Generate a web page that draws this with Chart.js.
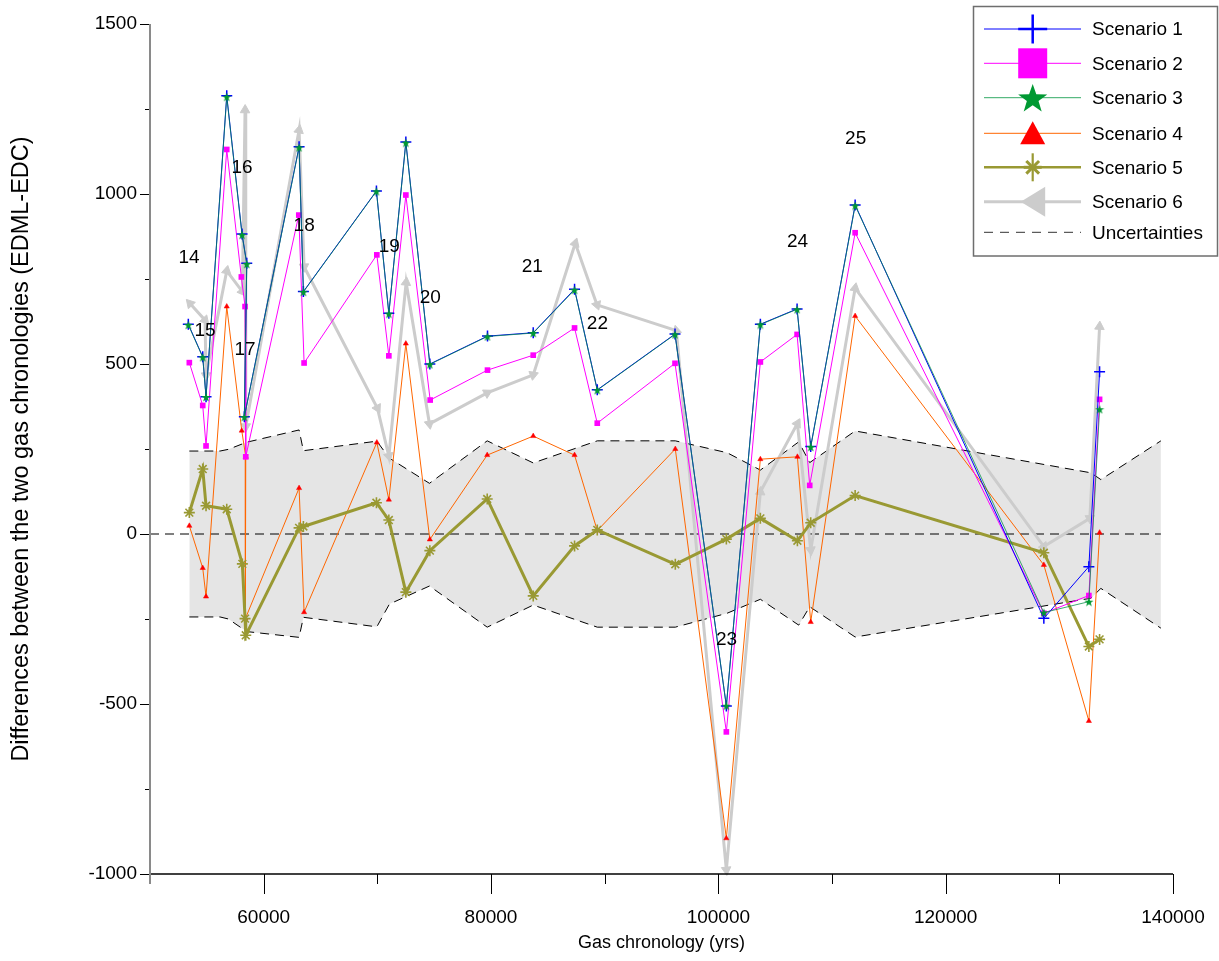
<!DOCTYPE html>
<html>
<head>
<meta charset="utf-8">
<script src="https://cdn.jsdelivr.net/npm/chart.js@4.4.1/dist/chart.umd.min.js"></script>
<style>
html,body{margin:0;padding:0;background:#ffffff;}
#wrap{position:relative;width:1219px;height:961px;}
</style>
</head>
<body>
<div id="wrap"><canvas id="c" width="1219" height="961"></canvas></div>
<script>
// ---------------- DATA ----------------
const seriesNames = ['Scenario 1','Scenario 2','Scenario 3','Scenario 4','Scenario 5','Scenario 6','Uncertainties'];

const xTickValues = [50000,60000,70000,80000,90000,100000,110000,120000,130000,140000];
const xTickLabels = ['','60000','','80000','','100000','','120000','','140000'];
const yTickValues = [-1000,-750,-500,-250,0,250,500,750,1000,1250,1500];
const yTickLabels = ['-1000','','-500','','0','','500','','1000','','1500'];

const s1X = [53371,54639,54930,56752,58099,58512,58301,63116,63495,69921,71013,72509,74621,79692,83715,87351,89349,96189,100705,103698,106929,108127,112036,128637,132599,133541];
const s1Y = [617,521,404,1289,882,796,345,1139,713,1009,649,1153,500,582,592,720,424,588,-506,617,662,257,968,-248,-96,477];

const s2X = [53460,54639,54930,56752,58037,58363,58424,63090,63557,69956,71013,72509,74648,79692,83715,87351,89349,96189,100705,103698,106929,108039,112036,128637,132599,133541];
const s2Y = [504,378,259,1131,756,669,227,938,503,821,524,997,394,482,526,606,326,502,-582,506,587,143,886,-233,-181,396];

const s3X = [53371,54639,54930,56752,58099,58512,58301,63116,63495,69921,71013,72509,74621,79692,83715,87351,89349,96189,100705,103698,106929,108127,112036,128637,132599,133541];
const s3Y = [615,520,403,1286,880,794,344,1137,712,1008,648,1151,499,581,591,718,423,587,-505,616,661,256,966,-231,-199,367];

const s4X = [53460,54639,54930,56752,58072,58424,58389,63116,63557,69956,71013,72509,74621,79666,83715,87351,89349,96215,100705,103698,106956,108127,112036,128637,132599,133541];
const s4Y = [24,-100,-184,669,304,227,-249,135,-230,269,101,560,-16,232,288,232,10,250,-895,220,227,-259,641,-91,-550,4];

const s5X = [53460,54639,54930,56752,58125,58363,58424,63116,63495,69921,71013,72509,74621,79666,83715,87351,89349,96215,100705,103698,106956,108127,112036,128637,132599,133541];
const s5Y = [63,191,83,73,-88,-249,-298,18,22,92,41,-171,-49,103,-182,-35,12,-89,-15,46,-20,33,113,-55,-331,-310];

const s6X = [53521,54842,54930,56752,58125,58363,58424,63116,63557,70009,71013,72535,74586,79666,83715,87413,89323,96303,100705,103698,106956,108127,112036,128637,132687,133541];
const s6Y = [678,629,466,774,713,1247,316,1188,786,370,229,740,324,415,468,855,674,598,-988,124,325,-47,723,-37,46,610];

const bandX     = [53460,56162,56893,58512,63116,63495,69956,71065,74586,79666,83715,89349,96215,100776,103698,107071,108039,112036,132775,133655,138935];
const bandUpper = [244,244,249,270,306,245,273,223,149,274,209,274,274,239,188,271,210,303,180,160,274];
const bandLower = [-244,-244,-250,-287,-304,-245,-273,-206,-153,-274,-209,-274,-274,-233,-192,-268,-214,-303,-189,-160,-277];

const zeroX = [50000,138935];
const zeroY = [0,0];

const eventNames = ['14','15','16','17','18','19','20','21','22','23','24','25'];
const eventX = [53434,54843,58101,58366,63561,71046,74657,83639,89363,100723,106975,112083];
const eventY = [812,597,1076,541,906,844,694,785,618,-312,859,1162];

// ---------------- HELPERS ----------------
const FONT = '"Liberation Sans", Arial, Helvetica, sans-serif';
Chart.defaults.font.family = FONT;
Chart.defaults.color = '#000000';

function pts(xs, ys){ return xs.map((x,i)=>({x:x, y:ys[i]})); }

function drawStar5(g, cx, cy, R, color){
  g.beginPath();
  for(let k=0;k<10;k++){
    const r = (k%2) ? R*0.40 : R;
    const a = -Math.PI/2 + k*Math.PI/5;
    const px = cx + r*Math.cos(a), py = cy + r*Math.sin(a);
    if(k===0) g.moveTo(px,py); else g.lineTo(px,py);
  }
  g.closePath(); g.fillStyle = color; g.fill();
}
const starImg = (function(){
  const c = document.createElement('canvas'); c.width = 10; c.height = 10;
  drawStar5(c.getContext('2d'), 5, 5.5, 4.8, '#009933');
  return c;
})();

function arrowRotation(xs, ys){
  return function(ctx){
    const ch = ctx.chart, i = ctx.dataIndex;
    if (i === undefined || !ch.scales || !ch.scales.x) return 0;
    const sx = ch.scales.x, sy = ch.scales.y;
    const j = (i === 0) ? 1 : i - 1;
    const x0 = sx.getPixelForValue(xs[i]), y0 = sy.getPixelForValue(ys[i]);
    const x1 = sx.getPixelForValue(xs[j]), y1 = sy.getPixelForValue(ys[j]);
    return Math.atan2(x0 - x1, -(y0 - y1)) * 180 / Math.PI;
  };
}

// ---------------- PLUGINS ----------------
const axesPlugin = {
  id: 'axesPlugin',
  afterDraw(chart){
    const g = chart.ctx, a = chart.chartArea, sx = chart.scales.x, sy = chart.scales.y;
    g.save();
    g.strokeStyle = '#000'; g.lineWidth = 1;
    xTickValues.forEach(v=>{
      const px = Math.round(sx.getPixelForValue(v)) + 0.5;
      const len = (v % 20000 === 0) ? 20 : 10;
      g.beginPath(); g.moveTo(px, a.bottom); g.lineTo(px, a.bottom + len); g.stroke();
    });
    yTickValues.forEach(v=>{
      const py = Math.round(sy.getPixelForValue(v)) + 0.5;
      const len = (v % 500 === 0) ? 10 : 5;
      g.beginPath(); g.moveTo(a.left - len, py); g.lineTo(a.left, py); g.stroke();
    });
    g.strokeStyle = '#000'; g.lineWidth = 1.5;
    g.beginPath(); g.moveTo(a.left, a.bottom); g.lineTo(a.right, a.bottom); g.stroke();
    g.strokeStyle = '#8a8a8a'; g.lineWidth = 2;
    g.beginPath(); g.moveTo(a.left, a.top); g.lineTo(a.left, a.bottom + 10); g.stroke();
    g.restore();
  }
};

const eventPlugin = {
  id: 'eventPlugin',
  afterDatasetsDraw(chart){
    const g = chart.ctx, sx = chart.scales.x, sy = chart.scales.y;
    g.save();
    g.font = '19px ' + FONT; g.fillStyle = '#000';
    g.textAlign = 'center'; g.textBaseline = 'middle';
    eventNames.forEach((t,i)=>{
      g.fillText(t, sx.getPixelForValue(eventX[i]), sy.getPixelForValue(eventY[i]));
    });
    g.restore();
  }
};

const legendPlugin = {
  id: 'boxLegend',
  afterDraw(chart){
    const g = chart.ctx;
    g.save();
    g.fillStyle = '#fff';
    g.fillRect(973.5, 6.5, 244, 249.5);
    g.strokeStyle = '#6e6e6e'; g.lineWidth = 1.5;
    g.strokeRect(973.5, 6.5, 244, 249.5);
    const rows = [29, 63.3, 97.7, 133.3, 167.3, 201.7, 232.3];
    const lx0 = 984, lx1 = 1081, mx = 1032.7, tx = 1092;
    function seg(y, color, lw, dash){
      g.save(); g.strokeStyle = color; g.lineWidth = lw; g.setLineDash(dash || []);
      g.beginPath(); g.moveTo(lx0, y); g.lineTo(lx1, y); g.stroke(); g.restore();
    }
    seg(rows[0], '#0000ff', 1);
    g.strokeStyle = '#0000ff'; g.lineWidth = 2.5;
    g.beginPath(); g.moveTo(mx, rows[0]-14.5); g.lineTo(mx, rows[0]+14.5);
    g.moveTo(mx-14.5, rows[0]); g.lineTo(mx+14.5, rows[0]); g.stroke();
    seg(rows[1], '#ff00ff', 1);
    g.fillStyle = '#ff00ff'; g.fillRect(mx-14.5, rows[1]-15, 29, 30);
    seg(rows[2], '#33aa66', 1);
    drawStar5(g, mx, rows[2]+1.5, 15.3, '#009933');
    seg(rows[3], '#ff6600', 1);
    g.fillStyle = '#ff0000';
    g.beginPath(); g.moveTo(mx, rows[3]-12); g.lineTo(mx+12.5, rows[3]+11); g.lineTo(mx-12.5, rows[3]+11); g.closePath(); g.fill();
    seg(rows[4], '#999933', 2.5);
    g.strokeStyle = '#999933'; g.lineWidth = 2.2;
    g.beginPath(); g.moveTo(mx, rows[4]-14); g.lineTo(mx, rows[4]+14); g.stroke();
    g.lineWidth = 3;
    [0,45,135].forEach(d=>{
      const r = d*Math.PI/180, dx = 9*Math.cos(r), dy = 9*Math.sin(r);
      g.beginPath(); g.moveTo(mx-dx, rows[4]-dy); g.lineTo(mx+dx, rows[4]+dy); g.stroke();
    });
    seg(rows[5], '#cccccc', 3);
    g.fillStyle = '#cccccc';
    g.beginPath(); g.moveTo(mx-12, rows[5]); g.lineTo(mx+12.5, rows[5]-15); g.lineTo(mx+12.5, rows[5]+15); g.closePath(); g.fill();
    seg(rows[6], '#333333', 1, [9,7]);
    g.font = '19px ' + FONT; g.fillStyle = '#000'; g.textAlign = 'left'; g.textBaseline = 'middle';
    seriesNames.forEach((t,i)=> g.fillText(t, tx, rows[i]+1));
    g.restore();
  }
};

// ---------------- CHART ----------------
const ctx = document.getElementById('c').getContext('2d');
new Chart(ctx, {
  type: 'scatter',
  data: {
    datasets: [
      { label:'bandUpper', data: pts(bandX, bandUpper), showLine:true, fill:'+1', backgroundColor:'#e5e5e5',
        borderColor:'#000', borderWidth:1, borderDash:[9,6], pointRadius:0, order:10 },
      { label:'bandLower', data: pts(bandX, bandLower), showLine:true, fill:false,
        borderColor:'#000', borderWidth:1, borderDash:[9,6], pointRadius:0, order:9 },
      { label:'zero', data: pts(zeroX, zeroY), showLine:true, fill:false,
        borderColor:'#000', borderWidth:1, borderDash:[9,6], pointRadius:0, order:8 },
      { label: seriesNames[5], data: pts(s6X, s6Y), showLine:true, fill:false, borderColor:'#cccccc', borderWidth:3,
        pointStyle:'triangle', pointRadius:5.5, pointBackgroundColor:'#cccccc', pointBorderColor:'#cccccc', pointBorderWidth:1,
        pointRotation: arrowRotation(s6X, s6Y), order:7, clip:false },
      { label: seriesNames[3], data: pts(s4X, s4Y), showLine:true, fill:false, borderColor:'#ff6600', borderWidth:1,
        pointStyle:'triangle', pointRadius:3, pointBackgroundColor:'#ff0000', pointBorderColor:'#ff0000', pointBorderWidth:0.5, order:6 },
      { label: seriesNames[4], data: pts(s5X, s5Y), showLine:true, fill:false, borderColor:'#999933', borderWidth:3,
        pointStyle:'star', pointRadius:5.5, pointBorderColor:'#999933', pointBackgroundColor:'#999933', pointBorderWidth:1.6, order:5 },
      { label: seriesNames[1], data: pts(s2X, s2Y), showLine:true, fill:false, borderColor:'#ff00ff', borderWidth:1,
        pointStyle:'rect', pointRadius:4, pointBackgroundColor:'#ff00ff', pointBorderColor:'#ff00ff', pointBorderWidth:0, order:4 },
      { label: seriesNames[0], data: pts(s1X, s1Y), showLine:true, fill:false, borderColor:'#0000ff', borderWidth:1,
        pointStyle:'cross', pointRadius:5.5, pointBorderColor:'#0000ff', pointBorderWidth:1.5, order:3 },
      { label: seriesNames[2], data: pts(s3X, s3Y), showLine:true, fill:false, borderColor:'rgba(0,140,70,0.75)', borderWidth:1,
        pointStyle: starImg, pointRadius:5, order:2 }
    ]
  },
  options: {
    responsive: false,
    animation: false,
    events: [],
    layout: { padding: { left: 0, right: 46, top: 24, bottom: 0 } },
    plugins: { legend: { display: false }, tooltip: { enabled: false } },
    elements: { line: { tension: 0 } },
    scales: {
      x: {
        type: 'linear', min: 50000, max: 140000,
        afterBuildTicks: s => { s.ticks = xTickValues.map(v => ({ value: v })); },
        afterFit: s => { s.height = 87; },
        ticks: { autoSkip:false, maxRotation:0, padding: 12, font: { size: 19 }, color:'#000',
          callback: v => xTickLabels[xTickValues.indexOf(v)] },
        grid: { display:false, drawTicks:true, tickLength:20 },
        border: { display:false },
        title: { display:true, text:'Gas chronology (yrs)', font:{ size:18 }, color:'#000', padding:{ top:0, bottom:7 } }
      },
      y: {
        type: 'linear', min: -1000, max: 1500,
        afterBuildTicks: s => { s.ticks = yTickValues.map(v => ({ value: v })); },
        afterFit: s => { s.width = 150; },
        ticks: { autoSkip:false, padding: 3, font: { size: 19 }, color:'#000',
          callback: v => yTickLabels[yTickValues.indexOf(v)] },
        grid: { display:false, drawTicks:true, tickLength:10 },
        border: { display:false },
        title: { display:true, text:'Differences between the two gas chronologies (EDML-EDC)', font:{ size:23.5 }, color:'#000', padding:{ top:7, bottom:0 } }
      }
    }
  },
  plugins: [axesPlugin, eventPlugin, legendPlugin]
});
</script>
</body>
</html>
